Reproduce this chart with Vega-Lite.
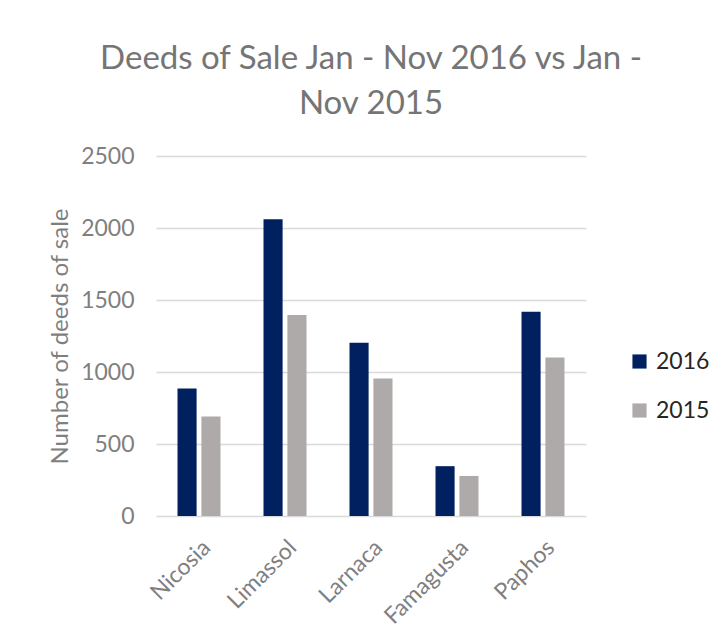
{
  "$schema": "https://vega.github.io/schema/vega-lite/v6.json",
  "width": 430,
  "height": 360,
  "autosize": {"type": "none"},
  "padding": {"left": 156, "top": 156, "right": 134, "bottom": 121},
  "background": "white",
  "title": {
    "text": ["Deeds of Sale Jan - Nov 2016 vs Jan -", "Nov 2015"],
    "anchor": "middle",
    "frame": "group",
    "font": "Lato",
    "fontSize": 33,
    "fontWeight": "normal",
    "color": "#757575",
    "lineHeight": 45,
    "offset": 24
  },
  "data": {
    "values": [
      {"city": "Nicosia", "year": "2016", "deeds": 886},
      {"city": "Nicosia", "year": "2015", "deeds": 691},
      {"city": "Limassol", "year": "2016", "deeds": 2061},
      {"city": "Limassol", "year": "2015", "deeds": 1396},
      {"city": "Larnaca", "year": "2016", "deeds": 1203},
      {"city": "Larnaca", "year": "2015", "deeds": 955},
      {"city": "Famagusta", "year": "2016", "deeds": 346},
      {"city": "Famagusta", "year": "2015", "deeds": 278},
      {"city": "Paphos", "year": "2016", "deeds": 1419},
      {"city": "Paphos", "year": "2015", "deeds": 1101}
    ]
  },
  "mark": {"type": "bar"},
  "encoding": {
    "x": {
      "field": "city",
      "type": "nominal",
      "sort": ["Nicosia", "Limassol", "Larnaca", "Famagusta", "Paphos"],
      "scale": {"paddingInner": 0.5, "paddingOuter": 0.25},
      "axis": {
        "title": null,
        "labelAngle": -45,
        "labelAlign": "right",
        "labelBaseline": "top",
        "labelFont": "Lato",
        "labelFontSize": 23,
        "labelColor": "#7F7F7F",
        "labelPadding": 20,
        "ticks": false,
        "domain": false,
        "grid": false
      }
    },
    "xOffset": {
      "field": "year",
      "type": "nominal",
      "sort": ["2016", "2015"],
      "scale": {"paddingInner": 0.2, "paddingOuter": 0}
    },
    "y": {
      "field": "deeds",
      "type": "quantitative",
      "scale": {"domain": [0, 2500]},
      "axis": {
        "title": "Number of deeds of sale",
        "titleFont": "Lato",
        "titleFontSize": 24,
        "titleFontWeight": "normal",
        "titleColor": "#7F7F7F",
        "titlePadding": 8,
        "values": [0, 500, 1000, 1500, 2000, 2500],
        "format": "d",
        "labelFont": "Lato",
        "labelFontSize": 23,
        "labelColor": "#7F7F7F",
        "labelPadding": 22,
        "ticks": false,
        "domain": false,
        "gridColor": "#D9D9D9",
        "gridWidth": 1.5
      }
    },
    "color": {
      "field": "year",
      "type": "nominal",
      "sort": ["2016", "2015"],
      "scale": {"domain": ["2016", "2015"], "range": ["#002060", "#AEAAAA"]},
      "legend": {
        "title": null,
        "orient": "none",
        "legendX": 472,
        "legendY": 194,
        "padding": 0,
        "symbolType": "square",
        "symbolSize": 200,
        "symbolStrokeWidth": 0,
        "labelFont": "Lato",
        "labelFontSize": 23,
        "labelColor": "#262626",
        "labelOffset": 5,
        "rowPadding": 25
      }
    }
  },
  "config": {"view": {"stroke": null}}
}
